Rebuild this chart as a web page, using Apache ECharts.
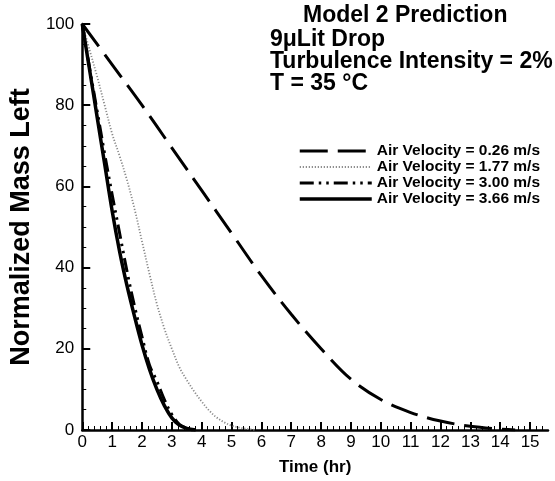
<!DOCTYPE html>
<html>
<head>
<meta charset="utf-8">
<script src="https://cdn.jsdelivr.net/npm/echarts@6/dist/echarts.min.js"></script>
<style>
html,body{margin:0;padding:0;background:#fff;}
#chart{width:555px;height:481px;}
</style>
</head>
<body>
<div id="chart"></div>
<script>
// ---- Data ----
const seriesNames = ['Air Velocity = 0.26 m/s', 'Air Velocity = 1.77 m/s', 'Air Velocity = 3.00 m/s', 'Air Velocity = 3.66 m/s'];

const time026 = [0,1,2,3,4,5,6,7,8,9,10,11,12,13,14,14.5];
const mass026 = [100,90,80,69.5,59,48.5,38,28.5,20,12.5,7.5,4.3,2.2,0.9,0.2,0];

const time177 = [0,0.25,0.5,0.75,1,1.25,1.5,1.75,2,2.25,2.5,2.75,3,3.25,3.5,3.75,4,4.25,4.5,4.75,5,5.25,5.5,5.8];
const mass177 = [100,93.5,87,80,73,67.5,61.5,54.5,46.5,38.5,31,25,20,15.5,12.3,9.5,7,4.8,3.1,1.9,1.1,0.6,0.3,0];

const time300 = [0,0.25,0.5,0.75,1,1.25,1.5,1.75,2,2.25,2.5,2.75,3,3.25,3.5,3.7];
const mass300 = [100,89,78.5,68,58,48.5,39,30.5,23,16,12,7.5,3.8,1.4,0.4,0];

const time366 = [0,0.25,0.5,0.75,1,1.25,1.5,1.75,2,2.25,2.5,2.75,3,3.25,3.5,3.8];
const mass366 = [100,88.5,77,65.5,54,44,35.5,28,21,15,10,6,3,1.2,0.4,0];

const xTicks = [0,1,2,3,4,5,6,7,8,9,10,11,12,13,14,15];
const yTicks = [0,20,40,60,80,100];

const titleLines = ['Model 2 Prediction', '9\u03bcLit Drop', 'Turbulence Intensity = 2%', 'T = 35 \u00b0C'];

// ---- Chart ----
const FONT = '"Liberation Sans", Arial, sans-serif';
function pairs(t, m) { return t.map((v, i) => [v, m[i]]); }

const chart = echarts.init(document.getElementById('chart'), null, {renderer: 'canvas'});

const styles = [
  {color: '#000', width: 3, type: [28, 10]},
  {color: '#8a8a8a', width: 1.8, type: [1.2, 1.8]},
  {color: '#000', width: 3, type: [14, 5, 2.5, 5, 2.5, 5]},
  {color: '#000', width: 3.5, type: 'solid'}
];
const datasets = [pairs(time026, mass026), pairs(time177, mass177), pairs(time300, mass300), pairs(time366, mass366)];

const option = {
  animation: false,
  backgroundColor: '#fff',
  grid: {left: 79, right: 7, top: 24, bottom: 51, containLabel: false},
  xAxis: {
    type: 'value', min: 0, max: 15.6, interval: 1,
    name: 'Time (hr)', nameLocation: 'middle', nameGap: 29,
    nameTextStyle: {color: '#000', fontFamily: FONT, fontSize: 17, fontWeight: 'bold'},
    axisLine: {show: true, onZero: false, lineStyle: {color: '#000', width: 2.5}},
    splitLine: {show: false},
    minorTick: {show: true, splitNumber: 5, length: 4, lineStyle: {color: '#000', width: 1}},
    axisTick: {show: true, inside: true, length: 8, customValues: xTicks, lineStyle: {color: '#000', width: 2}},
    axisLabel: {color: '#000', fontFamily: FONT, fontSize: 17, margin: 4, customValues: xTicks}
  },
  yAxis: {
    type: 'value', min: 0, max: 100, interval: 20,
    name: 'Normalized Mass Left', nameLocation: 'middle', nameGap: 46,
    nameTextStyle: {color: '#000', fontFamily: FONT, fontSize: 27, fontWeight: 'bold'},
    axisLine: {show: true, onZero: false, lineStyle: {color: '#000', width: 2.5}},
    splitLine: {show: false},
    minorTick: {show: true, splitNumber: 4, length: 4, lineStyle: {color: '#000', width: 1}},
    axisTick: {show: true, inside: true, length: 8, lineStyle: {color: '#000', width: 2}},
    axisLabel: {color: '#000', fontFamily: FONT, fontSize: 17, margin: 8, customValues: yTicks}
  },
  legend: {
    orient: 'vertical', left: 298, top: 143, itemGap: 0, padding: 0,
    itemWidth: 72, itemHeight: 14,
    itemStyle: {opacity: 0},
    textStyle: {color: '#000', fontFamily: FONT, fontSize: 15.5, fontWeight: 'bold'},
    data: seriesNames.map((n, i) => ({name: n, lineStyle: {width: styles[i].width, type: styles[i].type, color: styles[i].color}}))
  },
  graphic: [
    {type: 'text', left: 303, top: 4, style: {text: titleLines[0], font: 'bold 23px ' + FONT, fill: '#000'}},
    {type: 'text', left: 270, top: 28, style: {text: titleLines[1], font: 'bold 23px ' + FONT, fill: '#000'}},
    {type: 'text', left: 270, top: 50, style: {text: titleLines[2], font: 'bold 23px ' + FONT, fill: '#000'}},
    {type: 'text', left: 270, top: 72, style: {text: titleLines[3], font: 'bold 23px ' + FONT, fill: '#000'}}
  ],
  series: seriesNames.map((n, i) => ({
    name: n, type: 'line', symbol: 'none', smooth: 0.35,
    data: datasets[i],
    lineStyle: styles[i],
    itemStyle: {color: styles[i].color}
  }))
};
chart.setOption(option);
</script>
</body>
</html>
